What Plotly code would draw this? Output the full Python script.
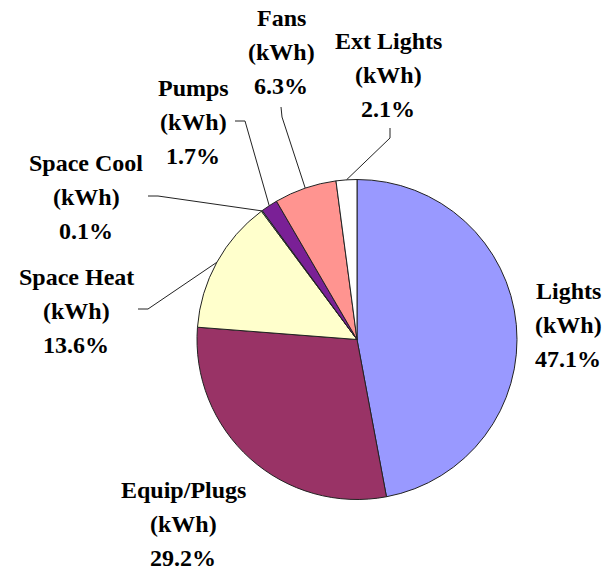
import plotly.graph_objects as go
import math

# ---- data ----
categories = ["Lights", "Equip/Plugs", "Space Heat", "Space Cool", "Pumps", "Fans", "Ext Lights"]
unit_label = "(kWh)"
shares = [47.1, 29.2, 13.6, 0.1, 1.7, 6.3, 2.1]
colors = ["#9999FF", "#993366", "#FFFFCC", "#CCFFFF", "#7A2096", "#FF9490", "#FFFFFF"]

W, H = 612, 572
# pie geometry (pixels)
cx, cy, r = 357, 339.5, 160

# label centre x and the y of the first line (pixels)
label_pos = {
    "Lights": (568, 291),
    "Equip/Plugs": (183, 490),
    "Space Heat": (76, 277),
    "Space Cool": (86, 163),
    "Pumps": (193, 88),
    "Fans": (281, 18),
    "Ext Lights": (388, 41),
}
line_gap = 34
# leader elbows: (start point near label, elbow point)
leaders = {
    "Space Heat": [(138, 309), (148, 309)],
    "Space Cool": [(148, 196), (158, 196)],
    "Pumps": [(235, 121), (245, 121)],
    "Fans": [(281, 107), (282, 117)],
    "Ext Lights": [(390, 128), (390, 138)],
}

FONT = "Liberation Serif, Times New Roman, serif"

def px(x):
    return x / W

def py(y):
    return 1 - y / H

fig = go.Figure()
fig.add_trace(go.Pie(
    labels=categories,
    values=shares,
    sort=False,
    direction="clockwise",
    rotation=0,
    marker=dict(colors=colors, line=dict(color="#222222", width=1)),
    textinfo="none",
    hoverinfo="label+percent",
    showlegend=False,
    domain=dict(x=[px(cx - r), px(cx + r)], y=[py(cy + r), py(cy - r)]),
))

annotations = []
shapes = []
total = sum(shares)
cum = 0.0
for name, val in zip(categories, shares):
    mid = (cum + val / 2) / total
    cum += val
    ang = 2 * math.pi * mid
    ex = cx + r * math.sin(ang)
    ey = cy - r * math.cos(ang)
    lx, ly = label_pos[name]
    lines = [name, unit_label, f"{val:.1f}%"]
    for i, t in enumerate(lines):
        annotations.append(dict(
            x=px(lx), y=py(ly + i * line_gap), xref="paper", yref="paper",
            text=f"<b>{t}</b>", showarrow=False, xanchor="center", yanchor="middle",
            font=dict(family=FONT, size=24, color="black"),
        ))
    if name in leaders:
        (x0, y0), (x1, y1) = leaders[name]
        path = f"M {px(x0)} {py(y0)} L {px(x1)} {py(y1)} L {px(ex)} {py(ey)}"
        shapes.append(dict(type="path", path=path, xref="paper", yref="paper",
                           line=dict(color="#222222", width=1)))

fig.update_layout(
    width=W, height=H,
    margin=dict(l=0, r=0, t=0, b=0),
    paper_bgcolor="white", plot_bgcolor="white",
    font=dict(family=FONT),
    annotations=annotations,
    shapes=shapes,
)
fig.write_html("out.html")
